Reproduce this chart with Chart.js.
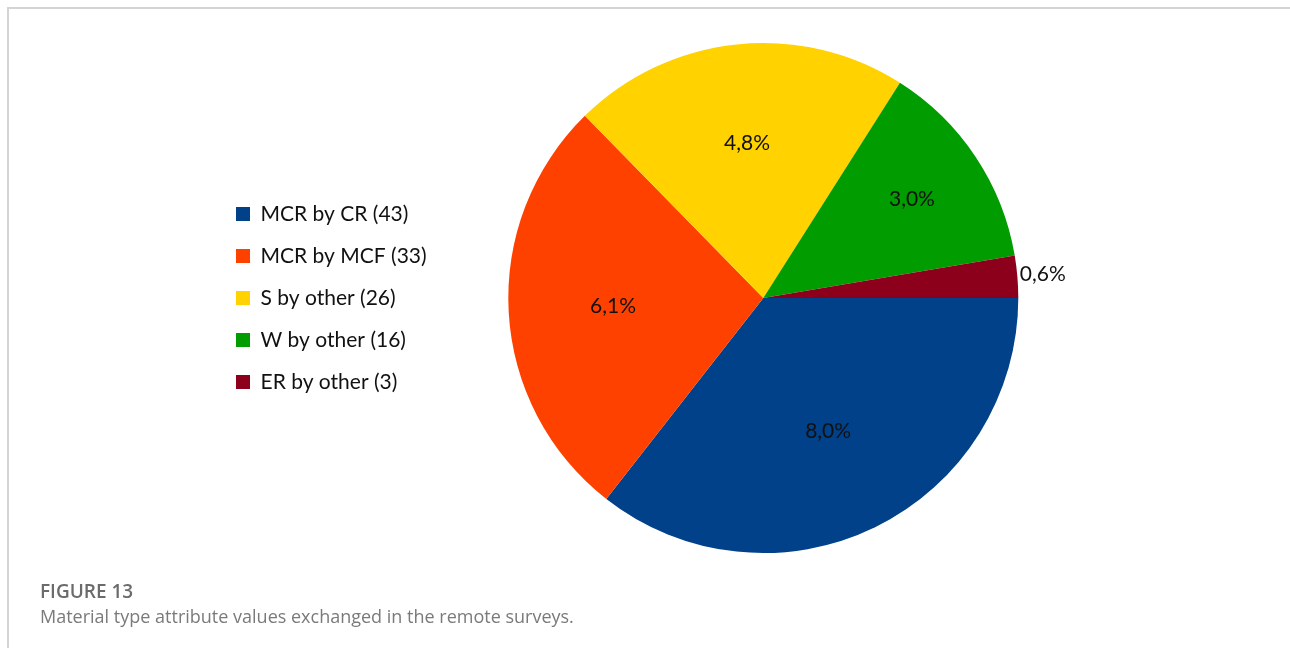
<!DOCTYPE html>
<html>
<head>
<meta charset="utf-8">
<script src="https://cdn.jsdelivr.net/npm/chart.js@4.4.1/dist/chart.umd.min.js"></script>
<style>
  html, body { margin: 0; padding: 0; background: #fff; }
  body { width: 1290px; height: 648px; position: relative; overflow: hidden; }
  .frame {
    position: absolute; left: 7px; top: 7px; right: 0; bottom: 0;
    border-top: 2px solid #d4d4d4; border-left: 2px solid #d4d4d4;
  }
  .chart-box { position: absolute; left: 0; top: 0; width: 1290px; height: 648px; }
  .caption { position: absolute; left: 40px; top: 579px; font-family: "Open Sans", sans-serif; color: #6b6b6b; }
  .caption .fig { font-size: 19px; font-weight: 600; line-height: 25px; }
  .caption .txt { font-size: 18px; line-height: 25px; color: #7a7a7a; }
</style>
</head>
<body>
<div class="frame"></div>
<div class="chart-box"><canvas id="pieChart"></canvas></div>
<div class="caption">
  <div class="fig">FIGURE 13</div>
  <div class="txt">Material type attribute values exchanged in the remote surveys.</div>
</div>
<script>
  const categories = ["MCR by CR", "MCR by MCF", "S by other", "W by other", "ER by other"];
  const counts = [43, 33, 26, 16, 3];
  const shares = [8.0, 6.1, 4.8, 3.0, 0.6];
  const colors = ["#00418a", "#ff4100", "#ffd200", "#009c00", "#8c001c"];

  const fmt = v => v.toFixed(1).replace(".", ",") + "%";

  // percentage labels placed along each slice's mid angle
  const sliceLabels = {
    id: "sliceLabels",
    afterDatasetsDraw(chart, args, opts) {
      const ctx = chart.ctx;
      const meta = chart.getDatasetMeta(0);
      ctx.save();
      ctx.font = "21px Lato, 'Open Sans', sans-serif";
      ctx.fillStyle = "#111";
      ctx.textAlign = "center";
      ctx.textBaseline = "middle";
      meta.data.forEach((arc, i) => {
        const p = arc.getProps(["x", "y", "startAngle", "endAngle", "outerRadius"], true);
        const mid = (p.startAngle + p.endAngle) / 2;
        const r = p.outerRadius * opts.offsets[i];
        ctx.fillText(fmt(shares[i]), p.x + Math.cos(mid) * r, p.y + Math.sin(mid) * r);
      });
      ctx.restore();
    }
  };

  new Chart(document.getElementById("pieChart"), {
    type: "pie",
    data: {
      labels: categories.map((c, i) => `${c} (${counts[i]})`),
      datasets: [{
        data: shares,
        backgroundColor: colors,
        borderWidth: 0
      }]
    },
    options: {
      responsive: true,
      maintainAspectRatio: false,
      animation: false,
      rotation: 90,
      layout: { padding: { left: 215, right: 200, top: 43, bottom: 95 } },
      plugins: {
        legend: {
          position: "left",
          labels: {
            boxWidth: 14,
            boxHeight: 14,
            padding: 21,
            color: "#111",
            font: { family: "Lato, 'Open Sans', sans-serif", size: 21 }
          }
        },
        tooltip: { enabled: false },
        sliceLabels: { offsets: [0.58, 0.59, 0.61, 0.7, 1.1] }
      }
    },
    plugins: [sliceLabels]
  });
</script>
</body>
</html>
